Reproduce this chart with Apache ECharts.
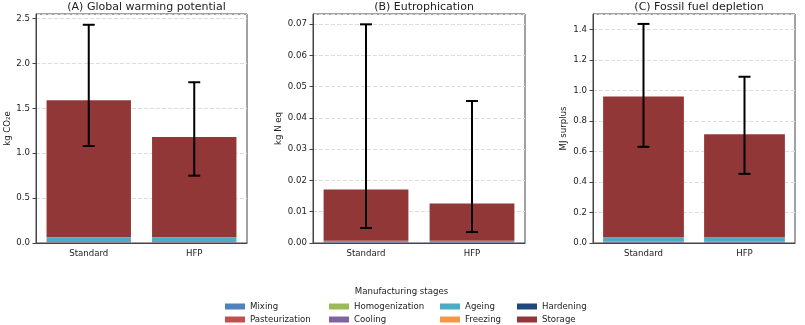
<!DOCTYPE html>
<html>
<head>
<meta charset="utf-8">
<script src="https://cdn.jsdelivr.net/npm/echarts@6/dist/echarts.min.js"></script>
<style>
  html, body { margin: 0; padding: 0; background: #fff; }
  #chart { width: 805px; height: 325px; }
</style>
</head>
<body>
<div id="chart"></div>
<script>
const categories = ["Standard", "HFP"];
const stages = ["Mixing", "Pasteurization", "Homogenization", "Cooling", "Ageing", "Freezing", "Hardening", "Storage"];
const stageColors = ["#4f81bd", "#c0504d", "#9bbb59", "#8064a2", "#4bacc6", "#f79646", "#1f497d", "#923737"];

// stage contributions, same order as stages
const gwpStandard = [0.002, 0.004, 0.001, 0.012, 0.042, 0.003, 0.002, 1.524];
const gwpHfp = [0.002, 0.004, 0.001, 0.012, 0.042, 0.003, 0.002, 1.114];
const gwpError = [[1.08, 2.43], [0.75, 1.79]];

const eutStandard = [0.00005, 0.0001, 0.00002, 0.0001, 0.0004, 0.00005, 0.00003, 0.01635];
const eutHfp = [0.00005, 0.0001, 0.00002, 0.0001, 0.0004, 0.00005, 0.00003, 0.01185];
const eutError = [[0.0048, 0.0699], [0.0035, 0.0454]];

const ffdStandard = [0.001, 0.002, 0.0005, 0.007, 0.024, 0.002, 0.001, 0.9225];
const ffdHfp = [0.001, 0.002, 0.0005, 0.007, 0.024, 0.002, 0.001, 0.6745];
const ffdError = [[0.63, 1.435], [0.453, 1.089]];

const panelTitles = ["(A) Global warming potential", "(B) Eutrophication", "(C) Fossil fuel depletion"];
const yNames = ["kg CO\u2082e", "kg N eq", "MJ surplus"];

const font = "DejaVu Sans";
const fs = 8.6;
const panels = [
  { std: gwpStandard, hfp: gwpHfp, err: gwpError, max: 2.55, step: 0.5, dec: 1 },
  { std: eutStandard, hfp: eutHfp, err: eutError, max: 0.0732, step: 0.01, dec: 2 },
  { std: ffdStandard, hfp: ffdHfp, err: ffdError, max: 1.5, step: 0.2, dec: 1 },
];
const grids = [
  { left: 36, top: 14, width: 211, height: 229 },
  { left: 313, top: 14, width: 212, height: 229 },
  { left: 593, top: 14, width: 202, height: 229 },
];
const nameGaps = [21, 30, 25];

function errorBars(params, api) {
  const i = api.value(0);
  const lo = api.coord([i, api.value(1)]);
  const hi = api.coord([i, api.value(2)]);
  const cap = 6;
  const style = { stroke: "#000", lineWidth: 2 };
  return {
    type: "group",
    children: [
      { type: "line", shape: { x1: lo[0], y1: lo[1], x2: hi[0], y2: hi[1] }, style },
      { type: "line", shape: { x1: hi[0] - cap, y1: hi[1], x2: hi[0] + cap, y2: hi[1] }, style },
      { type: "line", shape: { x1: lo[0] - cap, y1: lo[1], x2: lo[0] + cap, y2: lo[1] }, style },
    ],
  };
}

const series = [];
panels.forEach((p, k) => {
  stages.forEach((s, j) => {
    series.push({
      type: "bar",
      name: s,
      stack: "p" + k,
      xAxisIndex: k,
      yAxisIndex: k,
      barWidth: "80%",
      itemStyle: { color: stageColors[j] },
      data: [p.std[j], p.hfp[j]],
    });
  });
  series.push({
    type: "custom",
    name: "err" + k,
    xAxisIndex: k,
    yAxisIndex: k,
    renderItem: errorBars,
    encode: { x: 0, y: [1, 2] },
    z: 10,
    data: p.err.map((e, i) => [i, e[0], e[1]]),
  });
});

// one legend per entry: 4 columns x 2 rows
const legendX = [220, 324, 435, 512];
const legendY = [297, 310];
const legends = stages.map((s, j) => ({
  left: legendX[Math.floor(j / 2)],
  top: legendY[j % 2],
  itemWidth: 20,
  itemHeight: 6,
  itemGap: 0,
  icon: "rect",
  textStyle: { fontFamily: font, fontSize: fs, color: "#222" },
  data: [s],
}));

const chart = echarts.init(document.getElementById("chart"));
chart.setOption({
  animation: false,
  backgroundColor: "#fff",
  textStyle: { fontFamily: font },
  title: panelTitles.map((t, k) => ({
    text: t,
    left: grids[k].left + grids[k].width / 2,
    top: -3,
    textAlign: "center",
    textStyle: { fontFamily: font, fontSize: 11, fontWeight: "normal", color: "#222" },
  })),
  graphic: [{
    type: "text",
    x: 401.5,
    y: 287,
    style: { text: "Manufacturing stages", font: fs + "px DejaVu Sans", fill: "#222", align: "center" },
  }],
  legend: legends,
  grid: grids.map((g) => Object.assign({ show: true, borderColor: "#444", borderWidth: 1, outerBoundsMode: "none" }, g)),
  xAxis: panels.map((p, k) => ({
    type: "category",
    gridIndex: k,
    data: categories,
    axisLine: { lineStyle: { color: "#444" } },
    axisTick: { alignWithLabel: true, length: 3.5, lineStyle: { color: "#444" } },
    axisLabel: { fontFamily: font, fontSize: fs, color: "#222", margin: 6 },
  })),
  yAxis: panels.map((p, k) => ({
    type: "value",
    gridIndex: k,
    min: 0,
    max: p.max,
    interval: p.step,
    name: yNames[k],
    nameLocation: "middle",
    nameGap: nameGaps[k],
    nameTextStyle: { fontFamily: font, fontSize: fs, color: "#222" },
    axisLine: { show: true, lineStyle: { color: "#444" } },
    axisTick: { show: true, length: 3.5, lineStyle: { color: "#444" } },
    axisLabel: {
      fontFamily: font, fontSize: fs, color: "#222", margin: 6,
      showMaxLabel: false,
      formatter: (v) => v.toFixed(p.dec),
    },
    splitLine: { show: true, lineStyle: { color: "#ddd", type: "dashed" } },
  })),
  series,
});
</script>
</body>
</html>
